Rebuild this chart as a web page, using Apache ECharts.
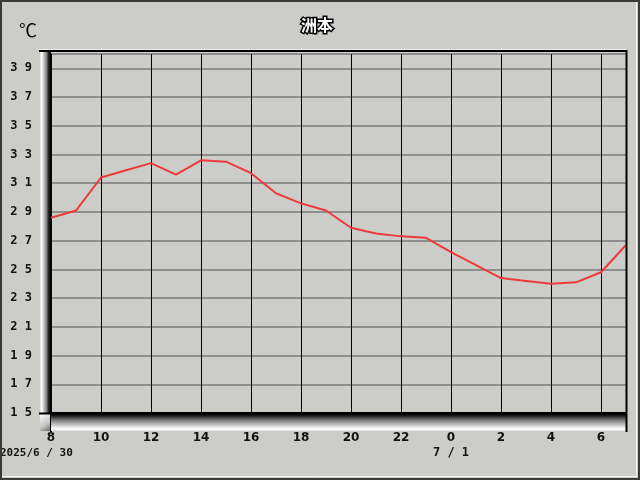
<!DOCTYPE html>
<html>
<head>
<meta charset="utf-8">
<script src="https://cdn.jsdelivr.net/npm/echarts@6/dist/echarts.min.js"></script>
<style>html,body{margin:0;padding:0;background:#cccdc9;}#c{width:640px;height:480px;}</style>
</head>
<body>
<div id="c"></div>
<script>
const hours = ['8','9','10','11','12','13','14','15','16','17','18','19','20','21','22','23','0','1','2','3','4','5','6','7'];
const temps = [28.6, 29.1, 31.4, 31.9, 32.4, 31.6, 32.6, 32.5, 31.7, 30.3, 29.6, 29.1, 27.9, 27.5, 27.3, 27.2, 26.2, 25.3, 24.4, 24.2, 24.0, 24.1, 24.8, 26.7];
const yTicks = [15,17,19,21,23,25,27,29,31,33,35,37,39];
const titleText = '洲本';
const unitText = '℃';
const dateLabels = ['2025/6 / 30', '7 / 1'];

const chart = echarts.init(document.getElementById('c'), null, {renderer:'canvas'});
const L = 51, R = 626, T = 54, B = 413;
const bg = '#cccdc9';
chart.setOption({
  backgroundColor: bg,
  animation: false,
  grid: {left: L, right: 640 - R, top: T, bottom: 480 - B},
  xAxis: {
    type: 'category', data: hours, boundaryGap: false,
    axisLine: {show: true, lineStyle: {color: '#000', width: 2}},
    axisTick: {show: true, interval: (i) => i === 0, length: 19, lineStyle: {color: '#000', width: 1}},
    axisLabel: {interval: 1, margin: 19, color: '#111', fontFamily: 'DejaVu Sans', fontWeight: 'bold', fontSize: 12},
    splitLine: {show: true, interval: 1, lineStyle: {color: '#000', width: 1}}
  },
  yAxis: {
    type: 'value', min: 15, max: 40, interval: 2,
    axisLine: {show: false}, axisTick: {show: false},
    axisLabel: {margin: 19, color: '#111', fontFamily: 'DejaVu Sans Mono', fontWeight: 'bold', fontSize: 12,
      formatter: v => yTicks.includes(v) ? String(v).split('').join(' ') : ''},
    splitLine: {show: true, lineStyle: {color: '#8e8e8e', width: 2}}
  },
  series: [{
    type: 'line', data: temps, symbol: 'none', smooth: false,
    lineStyle: {color: '#ee3a3a', width: 2}, z: 5
  }],
  graphic: [
    {type: 'rect', shape: {x: 1, y: 1, width: 638, height: 478}, style: {fill: 'none', stroke: '#3a3a3a', lineWidth: 2}, z: 100},
    {type: 'polyline', shape: {points: [[2, 476.5],[636.5, 476.5],[636.5, 2]]}, style: {stroke: '#f4f4f4', lineWidth: 1, fill: 'none'}, z: 100},
    // left bevel bar
    {type: 'rect', shape: {x: 40, y: 51, width: 11, height: B - 51 + 18},
      style: {fill: new echarts.graphic.LinearGradient(0, 0, 1, 0, [
        {offset: 0, color: '#d8d8d8'}, {offset: 0.15, color: '#ffffff'}, {offset: 0.35, color: '#c4c4c4'},
        {offset: 0.6, color: '#808080'}, {offset: 0.8, color: '#1a1a1a'}, {offset: 1, color: '#000'}])}, z: 50},
    // bottom bevel bar
    {type: 'rect', shape: {x: 51, y: B + 1, width: R - 51 + 1, height: 17},
      style: {fill: new echarts.graphic.LinearGradient(0, 0, 0, 1, [
        {offset: 0, color: '#000'}, {offset: 0.12, color: '#222'}, {offset: 0.35, color: '#777'},
        {offset: 0.6, color: '#bbb'}, {offset: 0.8, color: '#eee'}, {offset: 0.9, color: '#fff'}, {offset: 1, color: '#d8d8d8'}])}, z: 50},
    // bottom-left corner
    {type: 'rect', shape: {x: 40, y: B + 1, width: 11, height: 17},
      style: {fill: new echarts.graphic.LinearGradient(0, 0, 1, 1, [
        {offset: 0, color: '#ffffff'}, {offset: 0.6, color: '#c4c4c4'}, {offset: 1, color: '#666'}])}, z: 50},
    // top border line
    {type: 'line', shape: {x1: 39, y1: 51, x2: R + 1, y2: 51}, style: {stroke: '#000', lineWidth: 2}, z: 60},
    {type: 'line', shape: {x1: 39, y1: 49.5, x2: R + 1, y2: 49.5}, style: {stroke: '#f0f0f0', lineWidth: 1}, z: 60},
    // right border line
    {type: 'line', shape: {x1: R + 0.5, y1: 50, x2: R + 0.5, y2: B + 19}, style: {stroke: '#000', lineWidth: 2}, z: 60},
    // x tick at origin through bevel
    {type: 'line', shape: {x1: L - 0.5, y1: B, x2: L - 0.5, y2: B + 19}, style: {stroke: '#000', lineWidth: 1}, z: 61},
    // y tick at 15
    {type: 'line', shape: {x1: 39, y1: B + 0.5, x2: L, y2: B + 0.5}, style: {stroke: '#000', lineWidth: 2}, z: 61},
    // unit
    {type: 'text', x: 28, y: 30, style: {text: unitText, fontFamily: 'Noto Sans CJK JP', fontSize: 18, fill: '#000', align: 'center', verticalAlign: 'middle'}, z: 70},
    // title
    {type: 'text', x: 317, y: 25, style: {text: titleText, fontFamily: 'Noto Sans CJK JP', fontWeight: 'bold', fontSize: 16, fill: '#fff', stroke: '#000', lineWidth: 3, align: 'center', verticalAlign: 'middle'}, z: 70},
    // dates
    {type: 'text', x: 0, y: 453, style: {text: dateLabels[0], fontFamily: 'DejaVu Sans Mono', fontWeight: 'bold', fontSize: 11, fill: '#111', align: 'left', verticalAlign: 'middle'}, z: 70},
    {type: 'text', x: 451, y: 453, style: {text: dateLabels[1], fontFamily: 'DejaVu Sans Mono', fontWeight: 'bold', fontSize: 12, fill: '#111', align: 'center', verticalAlign: 'middle'}, z: 70}
  ]
});
</script>
</body>
</html>
